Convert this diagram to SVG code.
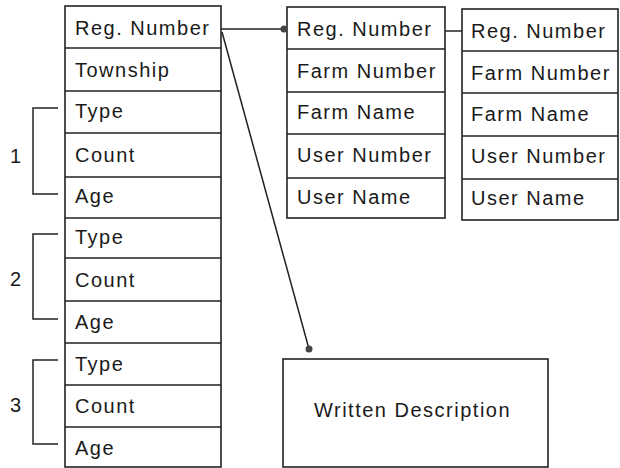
<svg xmlns="http://www.w3.org/2000/svg" width="620" height="468" viewBox="0 0 620 468">
<style>
.box{fill:#fff;stroke:#222;stroke-width:1.6}
.ln{fill:none;stroke:#222;stroke-width:1.5}
.t{font-family:"Liberation Sans",Arial,sans-serif;font-size:20px;letter-spacing:1.5px;fill:#1a1a1a}
.n{font-family:"Liberation Sans",Arial,sans-serif;font-size:20px;fill:#1a1a1a}
.dot{fill:#444}
</style>
<rect width="620" height="468" fill="#fff"/>
<g id="left-table">
<rect class="box" x="65" y="6" width="156" height="461"/>
<path class="ln" d="M65 48H221M65 91H221M65 133H221M65 177H221M65 218H221M65 258H221M65 301H221M65 343H221M65 385H221M65 427H221"/>
<text class="t" x="75" y="35">Reg. Number</text>
<text class="t" x="75" y="77">Township</text>
<text class="t" x="75" y="118">Type</text>
<text class="t" x="75" y="162">Count</text>
<text class="t" x="75" y="203">Age</text>
<text class="t" x="75" y="244">Type</text>
<text class="t" x="75" y="287">Count</text>
<text class="t" x="75" y="329">Age</text>
<text class="t" x="75" y="371">Type</text>
<text class="t" x="75" y="413">Count</text>
<text class="t" x="75" y="455">Age</text>
</g>
<g id="groups">
<path class="ln" d="M58 108H33V194H58"/>
<path class="ln" d="M58 234H33V319H58"/>
<path class="ln" d="M58 360H33V444H58"/>
<text class="n" x="10" y="163">1</text>
<text class="n" x="10" y="286">2</text>
<text class="n" x="10" y="412">3</text>
</g>
<g id="middle-table">
<rect class="box" x="287" y="7" width="158" height="211"/>
<path class="ln" d="M287 49H445M287 92H445M287 134H445M287 178H445"/>
<text class="t" x="297" y="36">Reg. Number</text>
<text class="t" x="297" y="78">Farm Number</text>
<text class="t" x="297" y="119">Farm Name</text>
<text class="t" x="297" y="162">User Number</text>
<text class="t" x="297" y="204">User Name</text>
</g>
<g id="right-table">
<rect class="box" x="462" y="9" width="156" height="211"/>
<path class="ln" d="M462 51H618M462 93H618M462 136H618M462 179H618"/>
<text class="t" x="471" y="38">Reg. Number</text>
<text class="t" x="471" y="80">Farm Number</text>
<text class="t" x="471" y="121">Farm Name</text>
<text class="t" x="471" y="163">User Number</text>
<text class="t" x="471" y="205">User Name</text>
</g>
<g id="written-description">
<rect class="box" x="283" y="359" width="265" height="108"/>
<text class="t" x="314" y="417" letter-spacing="1.1">Written Description</text>
</g>
<g id="connectors">
<path class="ln" d="M221 29H284"/>
<circle class="dot" cx="284" cy="29" r="3.5"/>
<path class="ln" d="M445 31H462"/>
<path class="ln" d="M222 32L309 349"/>
<circle class="dot" cx="309" cy="349" r="3.5"/>
</g>
</svg>
